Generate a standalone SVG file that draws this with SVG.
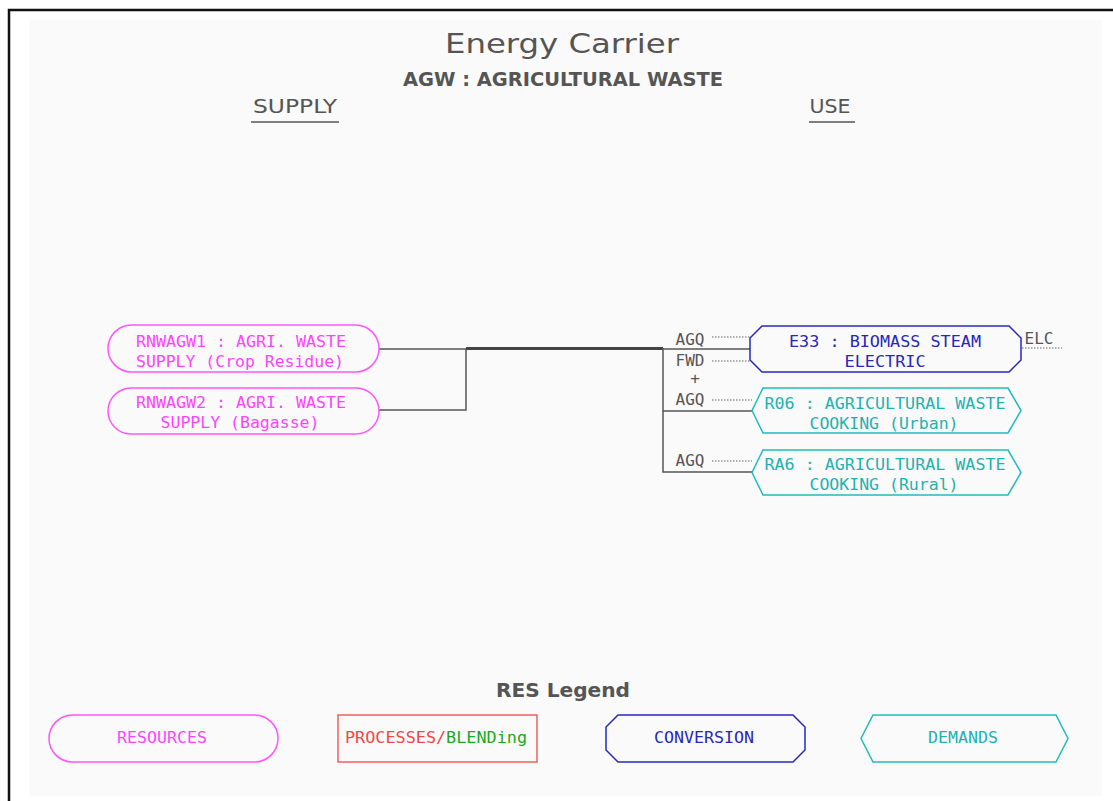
<svg xmlns="http://www.w3.org/2000/svg" width="1113" height="801" viewBox="0 0 1113 801">
<style>
.t{font-family:"DejaVu Sans Mono","Liberation Mono",monospace;font-size:16px;text-anchor:middle}
.g{fill:#555}
.m{fill:#ff44ff}
.b{fill:#2828b8}
.c{fill:#20b2b2}
.res{fill:none;stroke:#ff55ff;stroke-width:1.5}
.conv{fill:none;stroke:#2828c0;stroke-width:1.5}
.dem{fill:none;stroke:#22bbbb;stroke-width:1.5}
.ln{fill:none;stroke:#555;stroke-width:1.5}
.dot{fill:none;stroke:#666;stroke-width:1;stroke-dasharray:1.5 1.5}
.h{font-family:"DejaVu Sans Condensed","Liberation Sans",sans-serif;fill:#555;text-anchor:middle}
</style>
<rect x="0" y="0" width="1113" height="801" fill="#fff"/>
<rect x="29" y="20" width="1073" height="776" fill="#fafafa"/>
<path d="M9 801 V10 H1113" fill="none" stroke="#111" stroke-width="2.5"/>

<g id="header">
<text class="h" x="562" y="53" font-size="27" textLength="234" lengthAdjust="spacingAndGlyphs">Energy Carrier</text>
<text class="h" x="563" y="86" font-size="20" font-weight="bold" textLength="320" lengthAdjust="spacingAndGlyphs">AGW : AGRICULTURAL WASTE</text>
<text class="h" x="295" y="113" font-size="20" textLength="84" lengthAdjust="spacingAndGlyphs">SUPPLY</text>
<line x1="251" y1="122" x2="339" y2="122" stroke="#555" stroke-width="1.5"/>
<text class="h" x="830" y="113" font-size="20" textLength="41" lengthAdjust="spacingAndGlyphs">USE</text>
<line x1="809" y1="122" x2="855" y2="122" stroke="#555" stroke-width="1.5"/>
</g>

<g id="connectors">
<path class="ln" d="M379 349 H466 M379 410 H466 V349"/>
<path d="M466 348.5 H663" stroke="#444" stroke-width="3" fill="none"/>
<path class="ln" d="M663 349 H750 M663 348 V472 H752 M663 411 H752"/>
<path class="dot" d="M712 337 H750 M712 361 H750 M712 400 H752 M712 461 H752 M1022 348 H1062"/>
<text class="t g" x="690" y="345" font-size="15">AGQ</text>
<text class="t g" x="690" y="366" font-size="15">FWD</text>
<text class="t g" x="695" y="384" font-size="12">+</text>
<text class="t g" x="690" y="405" font-size="15">AGQ</text>
<text class="t g" x="690" y="466" font-size="15">AGQ</text>
<text class="t g" x="1039" y="344" font-size="15">ELC</text>
</g>

<g id="RNWAGW1">
<rect class="res" x="108" y="325" width="271" height="47" rx="23.5"/>
<text class="t m" x="241" y="347" textLength="210" lengthAdjust="spacingAndGlyphs">RNWAGW1 : AGRI. WASTE</text>
<text class="t m" x="240" y="367" textLength="208" lengthAdjust="spacingAndGlyphs">SUPPLY (Crop Residue)</text>
</g>
<g id="RNWAGW2">
<rect class="res" x="108" y="388" width="271" height="46" rx="23"/>
<text class="t m" x="241" y="408" textLength="210" lengthAdjust="spacingAndGlyphs">RNWAGW2 : AGRI. WASTE</text>
<text class="t m" x="240" y="428" textLength="159" lengthAdjust="spacingAndGlyphs">SUPPLY (Bagasse)</text>
</g>

<g id="E33">
<polygon class="conv" points="762,326 1009,326 1021,338 1021,360 1009,372 762,372 750,360 750,338"/>
<text class="t b" x="885" y="347" textLength="192" lengthAdjust="spacingAndGlyphs">E33 : BIOMASS STEAM</text>
<text class="t b" x="885" y="367" textLength="81" lengthAdjust="spacingAndGlyphs">ELECTRIC</text>
</g>
<g id="R06">
<polygon class="dem" points="763,388 1008,388 1021,410.5 1008,433 763,433 752,410.5"/>
<text class="t c" x="885" y="409" textLength="241" lengthAdjust="spacingAndGlyphs">R06 : AGRICULTURAL WASTE</text>
<text class="t c" x="884" y="429" textLength="149" lengthAdjust="spacingAndGlyphs">COOKING (Urban)</text>
</g>
<g id="RA6">
<polygon class="dem" points="763,450 1008,450 1021,472.5 1008,495 763,495 752,472.5"/>
<text class="t c" x="885" y="470" textLength="241" lengthAdjust="spacingAndGlyphs">RA6 : AGRICULTURAL WASTE</text>
<text class="t c" x="884" y="490" textLength="149" lengthAdjust="spacingAndGlyphs">COOKING (Rural)</text>
</g>

<g id="legend">
<text class="h" x="563" y="697" font-size="20" font-weight="bold" textLength="134" lengthAdjust="spacingAndGlyphs">RES Legend</text>
<g id="leg-resources">
<rect class="res" x="49" y="715" width="229" height="47" rx="23.5"/>
<text class="t m" x="162" y="743" textLength="90" lengthAdjust="spacingAndGlyphs">RESOURCES</text>
</g>
<g id="leg-processes">
<rect x="338" y="715" width="199" height="47" fill="none" stroke="#f06060" stroke-width="1.5"/>
<text class="t" x="436" y="743" style="text-anchor:middle" textLength="182" lengthAdjust="spacingAndGlyphs"><tspan fill="#f04848">PROCESSES/</tspan><tspan fill="#20a820">BLENDing</tspan></text>
</g>
<g id="leg-conversion">
<polygon class="conv" points="618,715 793,715 805,727 805,750 793,762 618,762 606,750 606,727"/>
<text class="t b" x="704" y="743" textLength="100" lengthAdjust="spacingAndGlyphs">CONVERSION</text>
</g>
<g id="leg-demands">
<polygon class="dem" points="873,715 1056,715 1068,738.5 1056,762 873,762 861,738.5"/>
<text class="t c" x="963" y="743" textLength="70" lengthAdjust="spacingAndGlyphs">DEMANDS</text>
</g>
</g>
</svg>
